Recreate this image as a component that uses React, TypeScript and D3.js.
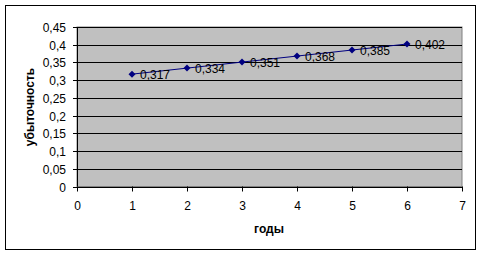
import React from "react";
import * as d3 from "d3";

const years = [1, 2, 3, 4, 5, 6];
const values = [0.317, 0.334, 0.351, 0.368, 0.385, 0.402];
const labels = ["0,317", "0,334", "0,351", "0,368", "0,385", "0,402"];
const yTicks = [0, 0.05, 0.1, 0.15, 0.2, 0.25, 0.3, 0.35, 0.4, 0.45];
const xTicks = [0, 1, 2, 3, 4, 5, 6, 7];

export default function App() {
  const W = 483, H = 257;
  const L = 77, R = 462, T = 27, B = 186.5;
  const x = d3.scaleLinear().domain([0, 7]).range([L, R]);
  const y = d3.scaleLinear().domain([0, 0.45]).range([B, T]);
  const fmt = (v: number) => (v === 0 ? "0" : String(+v.toFixed(2)).replace(".", ","));
  const line = d3.line<number>().x((_, i) => x(years[i])).y((d) => y(d));
  const font = "Arial, 'Liberation Sans', sans-serif";
  return (
    <svg width={W} height={H} style={{ position: "absolute", left: 0, top: 0 }} fontFamily={font}>
      <rect x={0} y={0} width={W} height={H} fill="#fff" />
      <rect x={5.5} y={5.5} width={470} height={244} fill="#fff" stroke="#000" strokeWidth={1} />
      <rect x={L} y={T} width={R - L} height={B - T} fill="#C0C0C0" stroke="#808080" strokeWidth={1} />
      {yTicks.map((t) => (
        <g key={t}>
          <line x1={L - 4} x2={R} y1={Math.round(y(t)) + 0.5} y2={Math.round(y(t)) + 0.5} stroke="#000" />
          <text x={L - 11} y={Math.round(y(t)) + 4.5} textAnchor="end" fontSize={12} fill="#000">{fmt(t)}</text>
        </g>
      ))}
      <line x1={L + 0.5} x2={L + 0.5} y1={T} y2={B} stroke="#000" />
      {xTicks.map((t) => (
        <g key={t}>
          <line x1={Math.round(x(t)) + 0.5} x2={Math.round(x(t)) + 0.5} y1={B} y2={B + 5} stroke="#000" />
          <text x={Math.round(x(t)) + 0.5} y={210} textAnchor="middle" fontSize={12} fill="#000">{t}</text>
        </g>
      ))}
      <path d={line(values) || ""} fill="none" stroke="#000080" strokeWidth={1} />
      {values.map((v, i) => {
        const cx = x(years[i]), cy = y(v);
        return (
          <g key={i}>
            <path d={`M${cx},${cy - 3.5}L${cx + 3.5},${cy}L${cx},${cy + 3.5}L${cx - 3.5},${cy}Z`} fill="#000080" />
            <text x={cx + 8} y={cy + 5} fontSize={12} fill="#000">{labels[i]}</text>
          </g>
        );
      })}
      <text x={269} y={233} textAnchor="middle" fontSize={12} fontWeight="bold" fill="#000">годы</text>
      <text transform={`translate(34,107) rotate(-90)`} textAnchor="middle" fontSize={12} fontWeight="bold" fill="#000">убыточность</text>
    </svg>
  );
}
